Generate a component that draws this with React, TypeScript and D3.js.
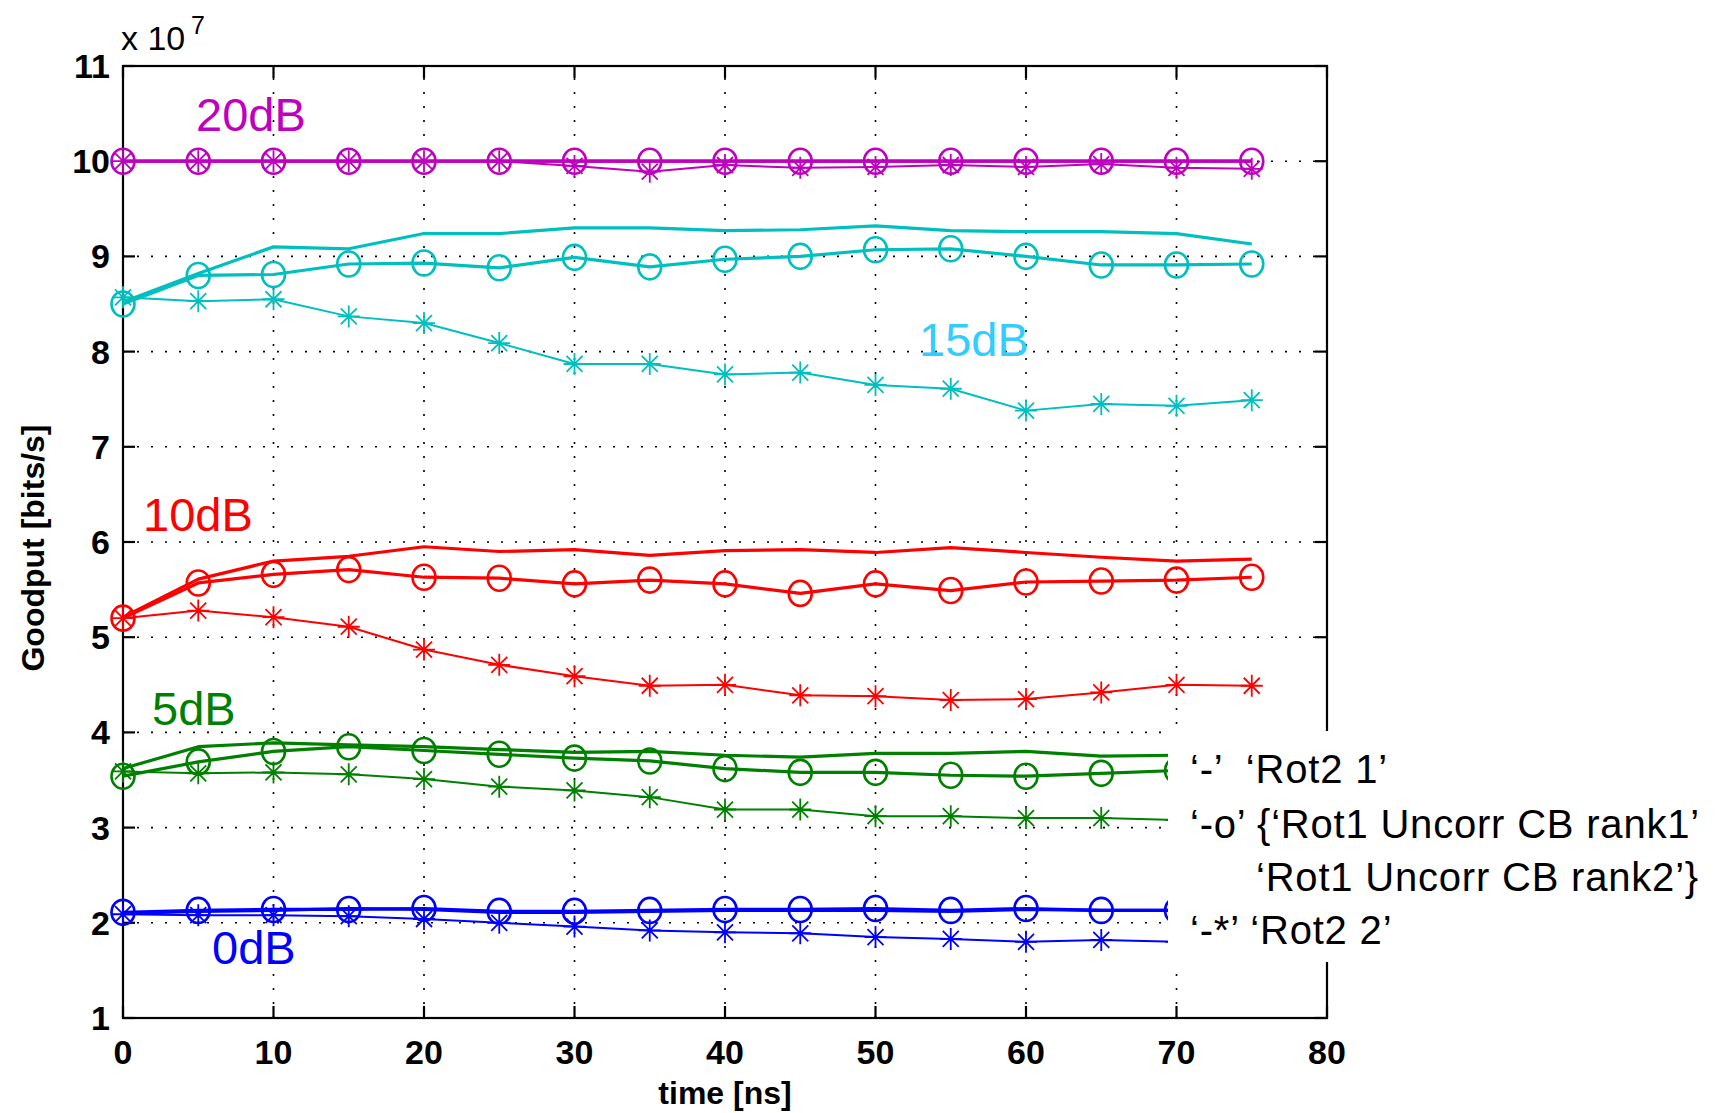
import React from "react";
import * as d3 from "d3";

const timeNs = [0, 5, 10, 15, 20, 25, 30, 35, 40, 45, 50, 55, 60, 65, 70, 75];

// 20 dB
const mag20Solid = [10, 10, 10, 10, 10, 10, 10, 10, 10, 10, 10, 10, 10, 10, 10, 10];
const mag20Circle = [10, 10, 10, 10, 10, 10, 10, 10, 10, 10, 10, 10, 10, 10, 10, 10];
const mag20Star = [10, 10, 10, 10, 10, 10, 9.95, 9.89, 9.96, 9.93, 9.94, 9.96, 9.94, 9.97, 9.93, 9.92];
// 15 dB
const cyan15Solid = [8.52, 8.82, 9.1, 9.08, 9.24, 9.24, 9.3, 9.3, 9.27, 9.28, 9.32, 9.27, 9.26, 9.26, 9.24, 9.13];
const cyan15Circle = [8.5, 8.8, 8.81, 8.92, 8.93, 8.88, 8.99, 8.89, 8.97, 9.0, 9.07, 9.08, 9.0, 8.91, 8.91, 8.92];
const cyan15Star = [8.57, 8.53, 8.55, 8.37, 8.3, 8.09, 7.87, 7.87, 7.76, 7.78, 7.65, 7.61, 7.38, 7.45, 7.43, 7.49];
// 10 dB
const red10Solid = [5.21, 5.61, 5.8, 5.85, 5.95, 5.9, 5.92, 5.86, 5.91, 5.92, 5.89, 5.94, 5.89, 5.84, 5.8, 5.82];
const red10Circle = [5.2, 5.57, 5.66, 5.71, 5.63, 5.62, 5.56, 5.6, 5.56, 5.46, 5.56, 5.49, 5.58, 5.59, 5.6, 5.63];
const red10Star = [5.2, 5.28, 5.21, 5.11, 4.87, 4.71, 4.59, 4.49, 4.5, 4.39, 4.38, 4.34, 4.35, 4.42, 4.5, 4.49];
// 5 dB
const green5Solid = [3.62, 3.85, 3.89, 3.87, 3.85, 3.82, 3.79, 3.8, 3.76, 3.74, 3.78, 3.78, 3.8, 3.75, 3.76, 3.76];
const green5Circle = [3.54, 3.69, 3.8, 3.85, 3.81, 3.77, 3.73, 3.7, 3.62, 3.58, 3.58, 3.55, 3.54, 3.57, 3.6, 3.6];
const green5Star = [3.59, 3.57, 3.58, 3.56, 3.51, 3.43, 3.39, 3.32, 3.19, 3.19, 3.12, 3.12, 3.1, 3.1, 3.08, 3.07];
// 0 dB
const blue0Solid = [2.1, 2.12, 2.13, 2.15, 2.14, 2.11, 2.11, 2.12, 2.13, 2.13, 2.13, 2.12, 2.14, 2.13, 2.13, 2.13];
const blue0Circle = [2.11, 2.13, 2.14, 2.14, 2.15, 2.12, 2.12, 2.13, 2.14, 2.14, 2.15, 2.13, 2.15, 2.13, 2.13, 2.13];
const blue0Star = [2.09, 2.08, 2.08, 2.07, 2.04, 2.0, 1.96, 1.92, 1.9, 1.89, 1.85, 1.83, 1.8, 1.82, 1.8, 1.79];

const xTicks = [0, 10, 20, 30, 40, 50, 60, 70, 80];
const yTicks = [1, 2, 3, 4, 5, 6, 7, 8, 9, 10, 11];

const groups = [
  { color: "#bf00bf", solid: mag20Solid, circle: mag20Circle, star: mag20Star },
  { color: "#00bfbf", solid: cyan15Solid, circle: cyan15Circle, star: cyan15Star },
  { color: "#ff0000", solid: red10Solid, circle: red10Circle, star: red10Star },
  { color: "#008000", solid: green5Solid, circle: green5Circle, star: green5Star },
  { color: "#0000ff", solid: blue0Solid, circle: blue0Circle, star: blue0Star },
];

const snrLabels = [
  { text: "20dB", color: "#bf00bf", x: 196, y: 131 },
  { text: "15dB", color: "#33ccff", x: 919, y: 356 },
  { text: "10dB", color: "#ff0000", x: 143, y: 531 },
  { text: "5dB", color: "#008000", x: 152, y: 725 },
  { text: "0dB", color: "#0000ff", x: 212, y: 964 },
];

const legendLines = [
  { text: "‘-’  ‘Rot2 1’", x: 1190, y: 783 },
  { text: "‘-o’ {‘Rot1 Uncorr CB rank1’", x: 1190, y: 838 },
  { text: "‘Rot1 Uncorr CB rank2’}", x: 1256, y: 891 },
  { text: "‘-*’ ‘Rot2 2’", x: 1190, y: 944 },
];

const W = 1717;
const H = 1113;
const FONT = "'Liberation Sans', Arial, Helvetica, sans-serif";

export default function App() {
  const x = d3.scaleLinear().domain([0, 80]).range([123, 1327]);
  const y = d3.scaleLinear().domain([1, 11]).range([1018, 66]);
  const [x0, x1] = x.range();
  const [y0, y1] = y.range();
  const line = d3
    .line<number>()
    .x((_, i) => x(timeNs[i]))
    .y((d) => y(d));
  const tick = 12;

  const starPath = (cx: number, cy: number) => {
    const a = 11;
    const b = 8;
    return `M${cx},${cy - a}V${cy + a}M${cx - a},${cy}H${cx + a}M${cx - b},${cy - b}L${cx + b},${cy + b}M${cx - b},${cy + b}L${cx + b},${cy - b}`;
  };

  return (
    <svg width={W} height={H} style={{ position: "absolute", left: 0, top: 0, background: "#fff" }}>
      <rect x={0} y={0} width={W} height={H} fill="#fff" />
      {/* grid */}
      <g stroke="#000" strokeWidth={1.6} strokeDasharray="2 12">
        {xTicks.slice(1, -1).map((t) => (
          <line key={"gx" + t} x1={x(t)} x2={x(t)} y1={y0} y2={y1} />
        ))}
        {yTicks.slice(1, -1).map((t) => (
          <line key={"gy" + t} x1={x0} x2={x1} y1={y(t)} y2={y(t)} />
        ))}
      </g>
      {/* axes box */}
      <g stroke="#000" strokeWidth={2.2} fill="none">
        <rect x={x0} y={y1} width={x1 - x0} height={y0 - y1} />
        {xTicks.map((t) => (
          <g key={"tx" + t}>
            <line x1={x(t)} x2={x(t)} y1={y0} y2={y0 - tick} />
            <line x1={x(t)} x2={x(t)} y1={y1} y2={y1 + tick} />
          </g>
        ))}
        {yTicks.map((t) => (
          <g key={"ty" + t}>
            <line x1={x0} x2={x0 + tick} y1={y(t)} y2={y(t)} />
            <line x1={x1} x2={x1 - tick} y1={y(t)} y2={y(t)} />
          </g>
        ))}
      </g>
      {/* series */}
      {groups.map((g, gi) => (
        <g key={"g" + gi} fill="none" stroke={g.color} strokeLinejoin="round">
          <path d={line(g.solid) || ""} strokeWidth={3.2} />
          <path d={line(g.circle) || ""} strokeWidth={3.2} />
          {g.circle.map((v, i) => (
            <ellipse key={"c" + i} cx={x(timeNs[i])} cy={y(v)} rx={11.5} ry={12.5} strokeWidth={2.6} />
          ))}
          <path d={line(g.star) || ""} strokeWidth={2} />
          {g.star.map((v, i) => (
            <path key={"s" + i} d={starPath(x(timeNs[i]), y(v))} strokeWidth={1.8} />
          ))}
        </g>
      ))}
      {/* legend background */}
      <rect x={1168} y={731} width={W - 1168} height={231} fill="#fff" />
      {/* tick labels */}
      <g fontFamily={FONT} fontWeight="bold" fontSize={34} fill="#000">
        {xTicks.map((t) => (
          <text key={"lx" + t} x={x(t)} y={1064} textAnchor="middle">
            {t}
          </text>
        ))}
        {yTicks.map((t) => (
          <text key={"ly" + t} x={110} y={y(t) + 12} textAnchor="end">
            {t}
          </text>
        ))}
      </g>
      <text x={121} y={50} fontFamily={FONT} fontSize={34} fill="#000">
        x 10
      </text>
      <text x={191} y={34} fontFamily={FONT} fontSize={25} fill="#000">
        7
      </text>
      {/* axis labels */}
      <text x={x(40)} y={1104} textAnchor="middle" fontFamily={FONT} fontWeight="bold" fontSize={32} fill="#000">
        time [ns]
      </text>
      <text
        transform={`translate(44,548) rotate(-90)`}
        textAnchor="middle"
        fontFamily={FONT}
        fontWeight="bold"
        fontSize={32}
        fill="#000"
      >
        Goodput [bits/s]
      </text>
      {/* SNR labels */}
      {snrLabels.map((l) => (
        <text key={l.text} x={l.x} y={l.y} fontFamily={FONT} fontSize={47} fill={l.color}>
          {l.text}
        </text>
      ))}
      {/* legend text */}
      {legendLines.map((l, i) => (
        <text
          key={"leg" + i}
          x={l.x}
          y={l.y}
          fontFamily={FONT}
          fontSize={40}
          letterSpacing={0.8}
          fill="#000"
          style={{ whiteSpace: "pre" }}
        >
          {l.text}
        </text>
      ))}
    </svg>
  );
}
